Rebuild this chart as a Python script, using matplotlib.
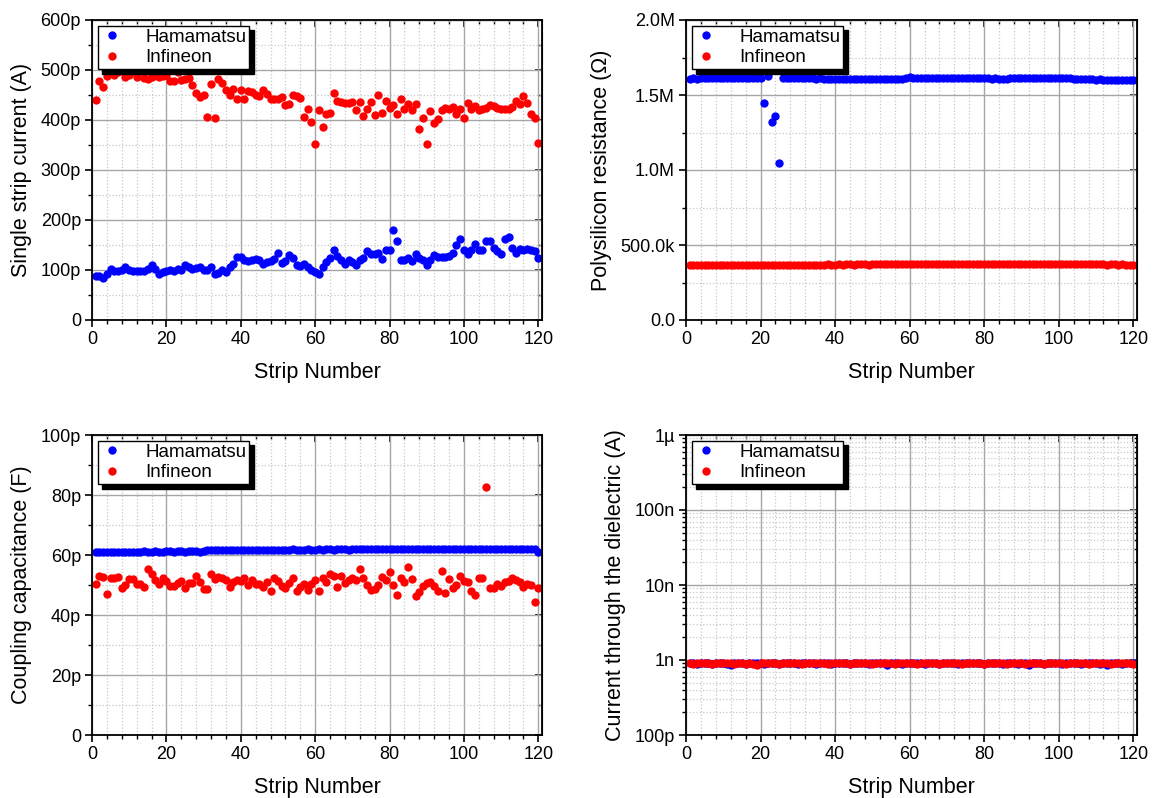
import numpy as np
import matplotlib
matplotlib.use("Agg")
import matplotlib.pyplot as plt
from matplotlib.ticker import MultipleLocator, FuncFormatter, LogLocator, NullFormatter

plt.rcParams['font.family'] = ['Liberation Sans', 'DejaVu Sans']

strips = np.arange(1, 121)

# single strip current (pA)
ileak_ham = [89, 88, 85, 92, 103, 99, 99, 101, 107, 100,
             99, 99, 99, 99, 103, 110, 103, 92, 97, 99,
             101, 99, 103, 101, 110, 107, 103, 105, 107, 100,
             101, 107, 93, 95, 101, 97, 107, 113, 127, 126,
             121, 118, 121, 123, 120, 112, 117, 118, 123, 135,
             115, 119, 131, 125, 111, 108, 113, 107, 101, 97,
             93, 107, 117, 125, 141, 128, 121, 113, 120, 117,
             111, 121, 125, 138, 132, 133, 135, 123, 140, 141,
             180, 159, 121, 121, 125, 119, 132, 125, 121, 111,
             120, 130, 127, 127, 127, 129, 135, 150, 163, 140,
             133, 140, 153, 140, 140, 158, 158, 145, 138, 133,
             163, 167, 145, 135, 142, 141, 142, 141, 138, 125]
ileak_inf = [440, 478, 467, 488, 497, 490, 497, 500, 487, 490,
             498, 487, 498, 485, 482, 487, 500, 487, 488, 490,
             479, 479, 497, 481, 483, 485, 471, 455, 447, 451,
             407, 473, 405, 483, 475, 460, 451, 463, 442, 460,
             443, 458, 457, 451, 448, 461, 452, 443, 443, 443,
             447, 430, 432, 451, 449, 445, 407, 422, 397, 353,
             420, 387, 413, 415, 455, 439, 437, 435, 435, 437,
             421, 437, 409, 422, 437, 410, 450, 415, 439, 425,
             430, 412, 443, 423, 433, 420, 432, 383, 405, 353,
             419, 395, 402, 420, 425, 423, 427, 413, 423, 405,
             435, 422, 428, 421, 423, 425, 430, 428, 425, 423,
             422, 422, 427, 438, 433, 449, 435, 413, 405, 355]

# polysilicon resistance (MOhm)
rpoly_ham = [1.608, 1.610, 1.609, 1.611, 1.610, 1.612, 1.611, 1.610, 1.612, 1.611,
             1.613, 1.612, 1.611, 1.613, 1.612, 1.614, 1.613, 1.612, 1.614, 1.613,
             1.450, 1.630, 1.320, 1.360, 1.050, 1.615, 1.614, 1.613, 1.612, 1.613,
             1.611, 1.612, 1.610, 1.611, 1.609, 1.610, 1.608, 1.609, 1.607, 1.608,
             1.607, 1.606, 1.607, 1.606, 1.605, 1.606, 1.605, 1.604, 1.605, 1.606,
             1.605, 1.606, 1.605, 1.604, 1.605, 1.606, 1.607, 1.608, 1.610, 1.622,
             1.616, 1.615, 1.616, 1.615, 1.614, 1.615, 1.616, 1.615, 1.614, 1.615,
             1.614, 1.613, 1.614, 1.613, 1.612, 1.613, 1.612, 1.611, 1.612, 1.611,
             1.610, 1.609, 1.610, 1.609, 1.608, 1.609, 1.610, 1.611, 1.612, 1.613,
             1.614, 1.613, 1.614, 1.613, 1.612, 1.613, 1.612, 1.611, 1.612, 1.611,
             1.610, 1.611, 1.610, 1.609, 1.608, 1.607, 1.606, 1.605, 1.604, 1.603,
             1.604, 1.603, 1.602, 1.601, 1.602, 1.601, 1.600, 1.599, 1.600, 1.599]
rpoly_inf = [0.366, 0.367, 0.366, 0.367, 0.367, 0.366, 0.367, 0.368, 0.367, 0.367,
             0.368, 0.367, 0.368, 0.368, 0.367, 0.368, 0.368, 0.369, 0.368, 0.368,
             0.369, 0.368, 0.369, 0.369, 0.368, 0.369, 0.369, 0.370, 0.369, 0.369,
             0.370, 0.369, 0.370, 0.370, 0.369, 0.370, 0.370, 0.371, 0.370, 0.370,
             0.371, 0.370, 0.371, 0.371, 0.370, 0.371, 0.371, 0.371, 0.370, 0.371,
             0.371, 0.372, 0.371, 0.371, 0.372, 0.371, 0.372, 0.372, 0.371, 0.372,
             0.372, 0.371, 0.372, 0.372, 0.371, 0.372, 0.372, 0.373, 0.372, 0.372,
             0.373, 0.372, 0.372, 0.373, 0.372, 0.373, 0.373, 0.372, 0.373, 0.373,
             0.372, 0.373, 0.373, 0.372, 0.373, 0.373, 0.372, 0.373, 0.373, 0.372,
             0.373, 0.372, 0.373, 0.373, 0.372, 0.372, 0.373, 0.372, 0.372, 0.373,
             0.372, 0.372, 0.371, 0.372, 0.372, 0.371, 0.372, 0.371, 0.371, 0.372,
             0.371, 0.371, 0.370, 0.371, 0.371, 0.370, 0.371, 0.370, 0.370, 0.370]

# coupling capacitance (pF)
ccoup_ham = [61.0, 61.1, 61.0, 61.1, 61.1, 61.0, 61.1, 61.1, 61.1, 61.0,
             61.1, 61.1, 61.1, 61.2, 61.1, 61.1, 61.2, 61.1, 61.1, 61.2,
             61.2, 61.1, 61.2, 61.2, 61.1, 61.2, 61.2, 61.2, 61.1, 61.2,
             61.7, 61.7, 61.8, 61.7, 61.7, 61.8, 61.7, 61.8, 61.8, 61.7,
             61.8, 61.8, 61.7, 61.8, 61.8, 61.8, 61.7, 61.8, 61.8, 61.8,
             61.8, 61.8, 61.8, 61.9, 61.8, 61.8, 61.8, 61.9, 61.8, 61.8,
             61.9, 61.8, 61.9, 61.9, 61.8, 61.9, 61.9, 61.9, 61.8, 61.9,
             61.9, 61.9, 61.9, 61.9, 61.9, 61.9, 61.9, 62.0, 61.9, 61.9,
             62.0, 61.9, 61.9, 62.0, 61.9, 62.0, 62.0, 61.9, 62.0, 62.0,
             62.0, 61.9, 62.0, 62.0, 62.0, 62.0, 61.9, 62.0, 62.0, 62.0,
             62.0, 62.0, 62.0, 62.1, 62.0, 62.0, 62.0, 62.1, 62.0, 62.0,
             62.1, 62.0, 62.1, 62.1, 62.0, 62.1, 62.1, 62.1, 62.0, 61.0]
ccoup_inf = [50.3, 53.0, 52.8, 47.0, 52.2, 52.5, 52.8, 48.9, 50.0, 51.9,
             51.9, 50.3, 50.3, 49.2, 55.2, 53.7, 51.7, 50.3, 52.2, 51.5,
             49.8, 49.8, 50.6, 51.5, 48.9, 50.6, 50.6, 53.0, 51.1, 48.7,
             48.6, 53.7, 52.0, 52.8, 52.2, 51.7, 49.4, 50.9, 51.7, 51.5,
             52.2, 50.0, 51.7, 50.3, 50.3, 49.2, 51.1, 48.1, 52.5, 51.5,
             49.8, 48.9, 50.8, 52.2, 48.1, 49.4, 50.3, 48.3, 50.3, 51.7,
             48.1, 52.5, 51.1, 53.7, 53.1, 49.4, 53.0, 50.6, 51.7, 52.2,
             51.7, 55.2, 52.2, 50.0, 48.3, 48.6, 50.0, 52.8, 51.7, 54.2,
             50.0, 46.7, 52.5, 51.1, 55.9, 51.9, 46.4, 47.6, 49.8, 50.8,
             51.1, 49.8, 48.1, 54.8, 47.2, 52.0, 48.9, 50.0, 53.1, 51.5,
             51.1, 48.1, 46.7, 52.5, 52.2, 82.6, 48.9, 48.9, 50.3, 49.8,
             50.9, 51.3, 52.2, 51.7, 51.1, 49.4, 50.3, 50.0, 44.2, 48.9]

# current through the dielectric (nA)
idiel_ham = [0.90, 0.91, 0.89, 0.90, 0.91, 0.90, 0.89, 0.90, 0.91, 0.90,
             0.89, 0.87, 0.90, 0.91, 0.90, 0.89, 0.90, 0.91, 0.90, 0.90,
             0.89, 0.90, 0.91, 0.90, 0.89, 0.90, 0.91, 0.92, 0.90, 0.89,
             0.90, 0.91, 0.90, 0.90, 0.89, 0.90, 0.91, 0.90, 0.89, 0.90,
             0.90, 0.91, 0.90, 0.89, 0.90, 0.90, 0.91, 0.90, 0.89, 0.90,
             0.91, 0.90, 0.90, 0.87, 0.90, 0.91, 0.90, 0.89, 0.90, 0.90,
             0.91, 0.90, 0.90, 0.89, 0.90, 0.91, 0.90, 0.89, 0.90, 0.90,
             0.91, 0.90, 0.89, 0.90, 0.90, 0.91, 0.90, 0.92, 0.90, 0.89,
             0.90, 0.91, 0.90, 0.90, 0.89, 0.90, 0.91, 0.90, 0.89, 0.90,
             0.90, 0.87, 0.90, 0.91, 0.90, 0.89, 0.90, 0.90, 0.91, 0.90,
             0.89, 0.90, 0.90, 0.91, 0.90, 0.89, 0.90, 0.90, 0.91, 0.90,
             0.89, 0.90, 0.87, 0.90, 0.91, 0.90, 0.89, 0.90, 0.90, 0.91]
idiel_inf = [0.90, 0.89, 0.90, 0.91, 0.90, 0.90, 0.89, 0.90, 0.90, 0.91,
             0.90, 0.90, 0.89, 0.90, 0.90, 0.88, 0.90, 0.89, 0.87, 0.90,
             0.90, 0.91, 0.90, 0.90, 0.89, 0.90, 0.90, 0.91, 0.90, 0.90,
             0.89, 0.90, 0.90, 0.90, 0.91, 0.90, 0.90, 0.89, 0.90, 0.90,
             0.91, 0.90, 0.90, 0.89, 0.90, 0.90, 0.91, 0.90, 0.90, 0.89,
             0.90, 0.90, 0.91, 0.90, 0.90, 0.89, 0.90, 0.90, 0.91, 0.90,
             0.90, 0.89, 0.90, 0.90, 0.91, 0.90, 0.90, 0.89, 0.90, 0.90,
             0.91, 0.90, 0.90, 0.89, 0.90, 0.90, 0.91, 0.90, 0.90, 0.88,
             0.90, 0.90, 0.91, 0.90, 0.90, 0.89, 0.90, 0.90, 0.91, 0.90,
             0.88, 0.90, 0.91, 0.90, 0.90, 0.89, 0.90, 0.90, 0.91, 0.90,
             0.90, 0.89, 0.90, 0.90, 0.91, 0.90, 0.90, 0.89, 0.90, 0.90,
             0.91, 0.90, 0.90, 0.89, 0.90, 0.90, 0.91, 0.90, 0.90, 0.89]

series_names = ['Hamamatsu', 'Infineon']
colors = ['#0000ff', '#ff0000']

W, H = 1153, 798
fig = plt.figure(figsize=(W / 100, H / 100), dpi=100)


def make_axes(left, top, width, height):
    return fig.add_axes([left / W, (H - top - height) / H, width / W, height / H])


def style_axes(ax, ylabel, log=False):
    ax.set_xlim(0, 121)
    ax.xaxis.set_major_locator(MultipleLocator(20))
    ax.xaxis.set_minor_locator(MultipleLocator(4))
    ax.grid(which='major', color='#a6a6a6', linestyle='-', linewidth=1.0)
    ax.grid(which='minor', color='#c8c8c8', linestyle=':', linewidth=0.9)
    ax.set_axisbelow(True)
    for s in ax.spines.values():
        s.set_linewidth(1.3)
    ax.tick_params(which='major', direction='out', length=5, width=1.2, labelsize=13, pad=3)
    ax.tick_params(which='minor', direction='out', length=3, width=1.0)
    # mirrored ticks on top / right pointing inwards
    top = ax.secondary_xaxis('top')
    top.xaxis.set_major_locator(MultipleLocator(20))
    top.xaxis.set_minor_locator(MultipleLocator(4))
    top.tick_params(which='major', direction='in', length=5, width=1.2, labeltop=False)
    top.tick_params(which='minor', direction='in', length=3, width=1.0)
    right = ax.secondary_yaxis('right')
    if log:
        right.set_yscale('log')
        right.yaxis.set_major_locator(LogLocator(base=10))
        right.yaxis.set_minor_locator(LogLocator(base=10, subs=np.arange(2, 10)))
    else:
        right.yaxis.set_major_locator(ax.yaxis.get_major_locator())
        right.yaxis.set_minor_locator(ax.yaxis.get_minor_locator())
    right.tick_params(which='major', direction='in', length=5, width=1.2, labelright=False)
    right.tick_params(which='minor', direction='in', length=3, width=1.0)
    right.yaxis.set_minor_formatter(NullFormatter())
    ax.set_xlabel('Strip Number', fontsize=15.5, labelpad=10)
    ax.set_ylabel(ylabel, fontsize=15.5, labelpad=6)


def plot_pair(ax, ys):
    for y, name, c in zip(ys, series_names, colors):
        ax.plot(strips, y, 'o', color=c, markersize=6, markeredgewidth=0, label=name)
    leg = ax.legend(loc='upper left', fontsize=13.5, frameon=True, fancybox=False,
                    framealpha=1, edgecolor='black', borderaxespad=0.3,
                    handletextpad=1.2, borderpad=0.15, labelspacing=0.2,
                    handlelength=1.2, markerscale=1.0,
                    shadow={'ox': 3.5, 'oy': -3.5, 'facecolor': 'black', 'edgecolor': 'black', 'alpha': 1})
    leg.get_frame().set_linewidth(1.0)


# top left: single strip current
ax1 = make_axes(92, 20, 450, 300)
plot_pair(ax1, [ileak_ham, ileak_inf])
ax1.set_ylim(0, 600)
ax1.yaxis.set_major_locator(MultipleLocator(100))
ax1.yaxis.set_minor_locator(MultipleLocator(50))
ax1.yaxis.set_major_formatter(FuncFormatter(lambda v, p: '0' if v == 0 else f'{v:.0f}p'))
style_axes(ax1, 'Single strip current (A)')

# top right: polysilicon resistance
ax2 = make_axes(686, 20, 451, 300)
plot_pair(ax2, [rpoly_ham, rpoly_inf])
ax2.set_ylim(0, 2.0)
ax2.yaxis.set_major_locator(MultipleLocator(0.5))
ax2.yaxis.set_minor_locator(MultipleLocator(0.25))


def fmt_res(v, p):
    if abs(v) < 1e-9:
        return '0.0'
    if v < 1:
        return f'{v * 1000:.1f}k'
    return f'{v:.1f}M'


ax2.yaxis.set_major_formatter(FuncFormatter(fmt_res))
style_axes(ax2, 'Polysilicon resistance (\u03a9)')

# bottom left: coupling capacitance
ax3 = make_axes(92, 435, 450, 300)
plot_pair(ax3, [ccoup_ham, ccoup_inf])
ax3.set_ylim(0, 100)
ax3.yaxis.set_major_locator(MultipleLocator(20))
ax3.yaxis.set_minor_locator(MultipleLocator(10))
ax3.yaxis.set_major_formatter(FuncFormatter(lambda v, p: '0' if v == 0 else f'{v:.0f}p'))
style_axes(ax3, 'Coupling capacitance (F)')

# bottom right: dielectric current, log scale
ax4 = make_axes(686, 435, 451, 300)
plot_pair(ax4, [np.array(idiel_ham) * 1e-9, np.array(idiel_inf) * 1e-9])
ax4.set_yscale('log')
ax4.set_ylim(1e-10, 1e-6)
ax4.yaxis.set_major_locator(LogLocator(base=10))
ax4.yaxis.set_minor_locator(LogLocator(base=10, subs=np.arange(2, 10)))
ax4.yaxis.set_minor_formatter(NullFormatter())
log_labels = {-10: '100p', -9: '1n', -8: '10n', -7: '100n', -6: '1\u00b5'}
ax4.yaxis.set_major_formatter(FuncFormatter(lambda v, p: log_labels.get(int(round(np.log10(v))), '')))
style_axes(ax4, 'Current through the dielectric (A)', log=True)

fig.savefig('out.png', dpi=100)
